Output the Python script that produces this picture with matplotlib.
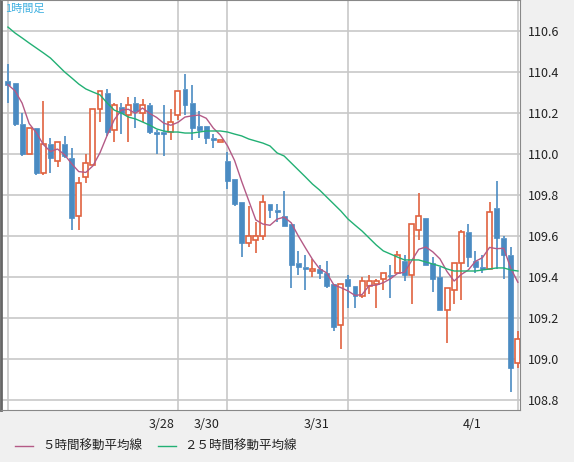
import matplotlib
matplotlib.use("Agg")
import matplotlib.pyplot as plt
from matplotlib.patches import Rectangle
import numpy as np

plt.rcParams['font.family'] = ['Noto Sans CJK JP', 'DejaVu Sans']

opens = [110.36,110.35,110.15,110.00,110.13,109.91,110.05,109.97,110.05,109.98,
         109.70,109.89,109.95,110.22,110.30,110.12,110.23,110.19,110.25,110.20,
         110.24,110.11,110.11,110.11,110.19,110.32,110.25,110.14,110.14,110.08,
         110.06,109.97,109.88,109.77,109.57,109.58,109.60,109.76,109.73,109.70,
         109.66,109.47,109.45,109.43,109.44,109.42,109.37,109.17,109.39,109.36,
         109.31,109.36,109.37,109.39,109.41,109.42,109.48,109.41,109.63,109.69,
         109.47,109.40,109.24,109.34,109.47,109.62,109.48,109.45,109.44,109.74,
         109.59,109.51,108.98]
highs = [110.44,110.35,110.20,110.13,110.13,110.26,110.08,110.06,110.09,110.03,
         109.89,110.00,110.22,110.31,110.32,110.25,110.25,110.28,110.28,110.27,
         110.25,110.12,110.24,110.22,110.31,110.39,110.34,110.21,110.14,110.10,
         110.07,110.01,109.88,109.77,109.75,109.67,109.80,109.76,109.76,109.82,
         109.66,109.53,109.51,109.49,109.46,109.48,109.37,109.37,109.41,109.36,
         109.40,109.41,109.39,109.42,109.46,109.53,109.51,109.66,109.81,109.69,
         109.50,109.45,109.35,109.47,109.63,109.66,109.53,109.51,109.77,109.87,
         109.60,109.55,109.14]
lows = [110.25,110.14,109.99,110.00,109.90,109.90,109.91,109.94,109.98,109.63,
        109.63,109.86,109.95,110.16,110.09,110.06,110.10,110.06,110.13,110.16,
        110.10,110.00,109.99,110.07,110.17,110.19,110.07,110.08,110.05,110.03,
        110.06,109.83,109.75,109.50,109.55,109.52,109.58,109.69,109.67,109.65,
        109.35,109.41,109.34,109.40,109.39,109.35,109.14,109.05,109.25,109.25,
        109.30,109.32,109.25,109.34,109.30,109.42,109.38,109.27,109.58,109.46,
        109.33,109.24,109.08,109.27,109.29,109.45,109.42,109.42,109.44,109.44,
        109.39,108.84,108.96]
closes = [110.34,110.15,110.00,110.13,109.91,110.05,109.98,110.06,109.99,109.69,
          109.86,109.96,110.22,110.31,110.11,110.24,110.20,110.24,110.21,110.24,
          110.11,110.10,110.10,110.16,110.31,110.24,110.13,110.12,110.08,110.07,
          110.07,109.87,109.76,109.57,109.60,109.60,109.77,109.73,109.72,109.65,
          109.46,109.45,109.44,109.44,109.42,109.36,109.16,109.37,109.36,109.31,
          109.38,109.38,109.38,109.42,109.405,109.51,109.41,109.66,109.70,109.46,
          109.39,109.24,109.35,109.47,109.62,109.50,109.45,109.44,109.72,109.59,
          109.51,108.96,109.10]
prev_closes = [110.30,110.30,110.63,110.13]
ma25 = [110.621,110.592,110.568,110.543,110.519,110.495,110.470,110.436,110.402,110.373,
        110.343,110.319,110.304,110.290,110.251,110.216,110.202,110.182,110.173,110.158,
        110.143,110.124,110.114,110.109,110.109,110.104,110.104,110.109,110.114,110.114,
        110.114,110.109,110.099,110.090,110.075,110.065,110.055,110.041,110.007,109.992,
        109.958,109.924,109.890,109.855,109.826,109.792,109.758,109.724,109.685,109.655,
        109.626,109.592,109.558,109.529,109.514,109.499,109.485,109.485,109.485,109.475,
        109.465,109.455,109.441,109.431,109.431,109.431,109.431,109.436,109.441,109.446,
        109.446,109.436,109.431]
date_labels = ["3/28", "3/30", "3/31", "4/1"]
date_grid_idx = [24, 31, 48, 72]
date_label_pos = [21.75, 28.0, 43.6, 65.5]
yticks = [108.8, 109.0, 109.2, 109.4, 109.6, 109.8, 110.0, 110.2, 110.4, 110.6]

BLUE = '#4a8bc2'
ORANGE = '#e0623f'
PINK = '#b45a86'
GREEN = '#22b074'

fig = plt.figure(figsize=(5.74, 4.62), dpi=100, facecolor='#f0f0f0')
ax = fig.add_axes([1/574, 52/462, 519/574, 410/462])
ax.set_facecolor('white')

n = len(closes)
x = np.arange(n)
w = 0.7
for i in x:
    o, h, l, c = opens[i], highs[i], lows[i], closes[i]
    up = c >= o
    col = ORANGE if up else BLUE
    top, bot = max(o, c), min(o, c)
    ax.vlines(i, top, h, color=col, lw=1.2, zorder=3)
    ax.vlines(i, l, bot, color=col, lw=1.2, zorder=3)
    hgt = max(top - bot, 0.004)
    if up:
        ax.add_patch(Rectangle((i - w/2, bot), w, hgt, facecolor='white',
                               edgecolor=col, lw=1.2, zorder=4))
    else:
        ax.add_patch(Rectangle((i - w/2, bot), w, hgt, facecolor=col,
                               edgecolor=col, lw=0.5, zorder=4))

allc = np.array(prev_closes + closes)
ma5 = np.convolve(allc, np.ones(5)/5, mode='valid')
ax.plot(x, ma5, color=PINK, lw=1.0, zorder=5)
ax.plot(x, ma25, color=GREEN, lw=1.0, zorder=5)

ax.set_xlim(-0.98, 72.3)
ax.set_ylim(108.753, 110.753)
for yv in yticks:
    ax.axhline(yv, color='#c8c8c8', lw=1.2, zorder=1)
ax.axvline(0, color='#c8c8c8', lw=1.2, zorder=1)
for gi in date_grid_idx:
    ax.axvline(gi, color='#c8c8c8', lw=1.2, zorder=1)

ax.set_xticks([])
ax.yaxis.tick_right()
ax.set_yticks(yticks)
ax.set_yticklabels([f"{v:.1f}" for v in yticks], fontsize=9, color='#222222')
ax.tick_params(axis='y', length=0, pad=6)
for s in ax.spines.values():
    s.set_color('#888888')
ax.spines['left'].set_color('#666666')
ax.spines['left'].set_linewidth(2)

for lab, p in zip(date_labels, date_label_pos):
    ax.text(p, -0.02, lab, transform=ax.get_xaxis_transform(), ha='center',
            va='top', fontsize=9, color='#222222')

ax.text(0.008, 0.992, "1時間足", transform=ax.transAxes, ha='left', va='top',
        fontsize=8, color='#3fb0e0')

fig.lines.append(plt.Line2D([15/574, 33/574], [1-446/462]*2, color=PINK, lw=1,
                            transform=fig.transFigure))
fig.text(42/574, 1-446/462, "５時間移動平均線", fontsize=9, va='center', color='#222222')
fig.lines.append(plt.Line2D([158/574, 176/574], [1-446/462]*2, color=GREEN, lw=1,
                            transform=fig.transFigure))
fig.text(184/574, 1-446/462, "２５時間移動平均線", fontsize=9, va='center', color='#222222')

fig.savefig("out.png", dpi=100, facecolor=fig.get_facecolor())
